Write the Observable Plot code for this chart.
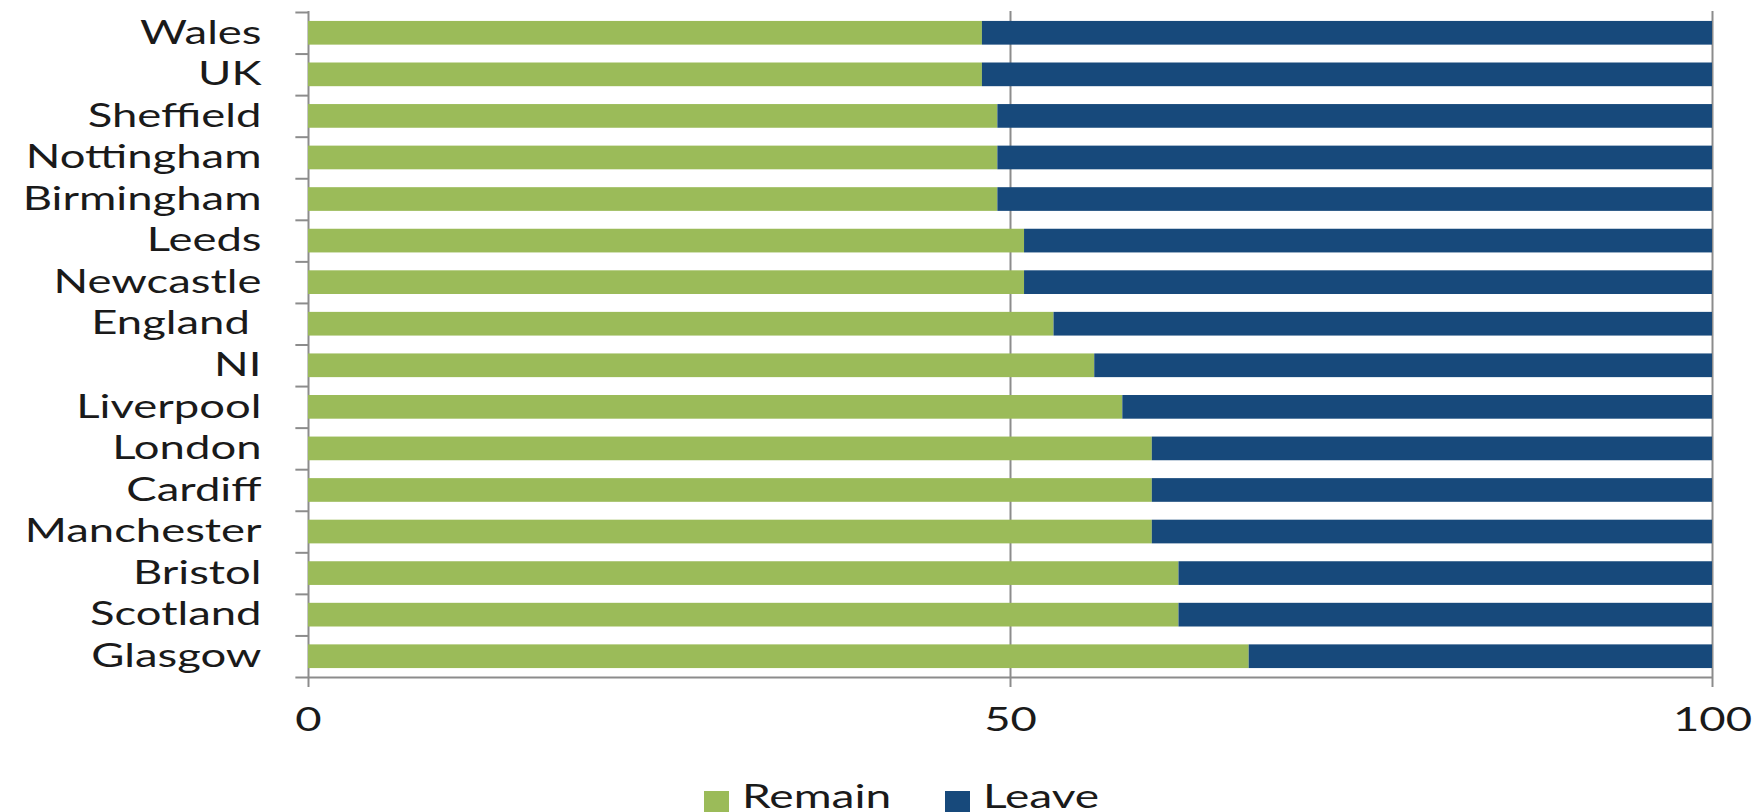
<!DOCTYPE html>
<html>
<head>
<meta charset="utf-8">
<script src="https://cdn.jsdelivr.net/npm/d3@7"></script>
<script src="https://cdn.jsdelivr.net/npm/@observablehq/plot@0.6"></script>
<style>
  html, body { margin: 0; padding: 0; background: #fff; overflow: hidden; }
  #chart svg { display: block; }
  #legend { position: relative; height: 42px; font-family: Lato, sans-serif; font-size: 32px; color: #1a1a1a; }
  .sw { position: absolute; top: 21px; width: 25px; height: 21px; }
  .lt { position: absolute; top: 10px; line-height: 1; transform: scaleX(1.44); transform-origin: left center; white-space: pre; }
</style>
</head>
<body>
<div id="chart"></div>
<div id="legend"></div>
<script>
const places = ["Wales","UK","Sheffield","Nottingham","Birmingham","Leeds","Newcastle","England ","NI","Liverpool","London","Cardiff","Manchester","Bristol","Scotland","Glasgow"];
const remain = [48.0, 48.0, 49.1, 49.1, 49.1, 51.0, 51.0, 53.1, 56.0, 58.0, 60.1, 60.1, 60.1, 62.0, 62.0, 67.0];
const leave  = [52.0, 52.0, 50.9, 50.9, 50.9, 49.0, 49.0, 46.9, 44.0, 42.0, 39.9, 39.9, 39.9, 38.0, 38.0, 33.0];
const seriesNames = ["Remain", "Leave"];
const seriesColors = ["#9bbb59", "#17497b"];
const xTicks = [0, 50, 100];

const rows = [];
places.forEach((p, i) => {
  rows.push({place: p, series: "Remain", value: remain[i]});
  rows.push({place: p, series: "Leave", value: leave[i]});
});

const W = 1757, H = 770, mt = 12, mb = 93, ml = 308, mr = 45;
const halfStep = (H - mt - mb) / places.length / 2;
const grey = "#8c8c8c";
const STRETCH = 1.42;

const chart = Plot.plot({
  width: W, height: H,
  marginTop: mt, marginBottom: mb, marginLeft: ml, marginRight: mr,
  style: {fontFamily: "Lato, sans-serif", fontSize: "32px", color: "#1a1a1a", background: "#fff"},
  x: {domain: [0, 100]},
  y: {domain: places, paddingInner: 0.43, paddingOuter: 0.215, round: false},
  color: {domain: seriesNames, range: seriesColors},
  marks: [
    Plot.ruleX([0, 50, 100], {stroke: grey, strokeWidth: 2, insetTop: -1}),
    Plot.barX(rows, {y: "place", x: "value", fill: "series"}),
    Plot.ruleY(places, {y: d => d, x1: -0.9, x2: 0, dy: -halfStep, stroke: grey, strokeWidth: 2}),
    Plot.ruleY([places[places.length - 1]], {y: d => d, x1: -0.9, x2: 100, dy: halfStep, stroke: grey, strokeWidth: 2}),
    Plot.axisY({tickSize: 0, tickPadding: 47, label: null}),
    Plot.axisX({ticks: xTicks, tickSize: 10, tickPadding: 21, stroke: grey, strokeWidth: 2, label: null})
  ]
});
document.getElementById("chart").appendChild(chart);

// Horizontally stretch tick labels around their anchor point (x-only scale)
d3.select(chart).selectAll('g[aria-label="y-axis tick label"] text, g[aria-label="x-axis tick label"] text').each(function() {
  const t = this;
  const old = t.getAttribute("transform") || "";
  let ax = parseFloat(t.getAttribute("x"));
  if (!isFinite(ax)) ax = 0;
  t.setAttribute("transform", `${old} translate(${ax},0) scale(${STRETCH},1) translate(${-ax},0)`);
  t.style.whiteSpace = "pre";
});

// Legend
const legend = d3.select("#legend");
const legendPos = [{sw: 704, tx: 742}, {sw: 945, tx: 983}];
seriesNames.forEach((name, i) => {
  legend.append("div").attr("class", "sw").style("left", legendPos[i].sw + "px").style("background", seriesColors[i]);
  legend.append("div").attr("class", "lt").style("left", legendPos[i].tx + "px").text(name);
});
</script>
</body>
</html>
